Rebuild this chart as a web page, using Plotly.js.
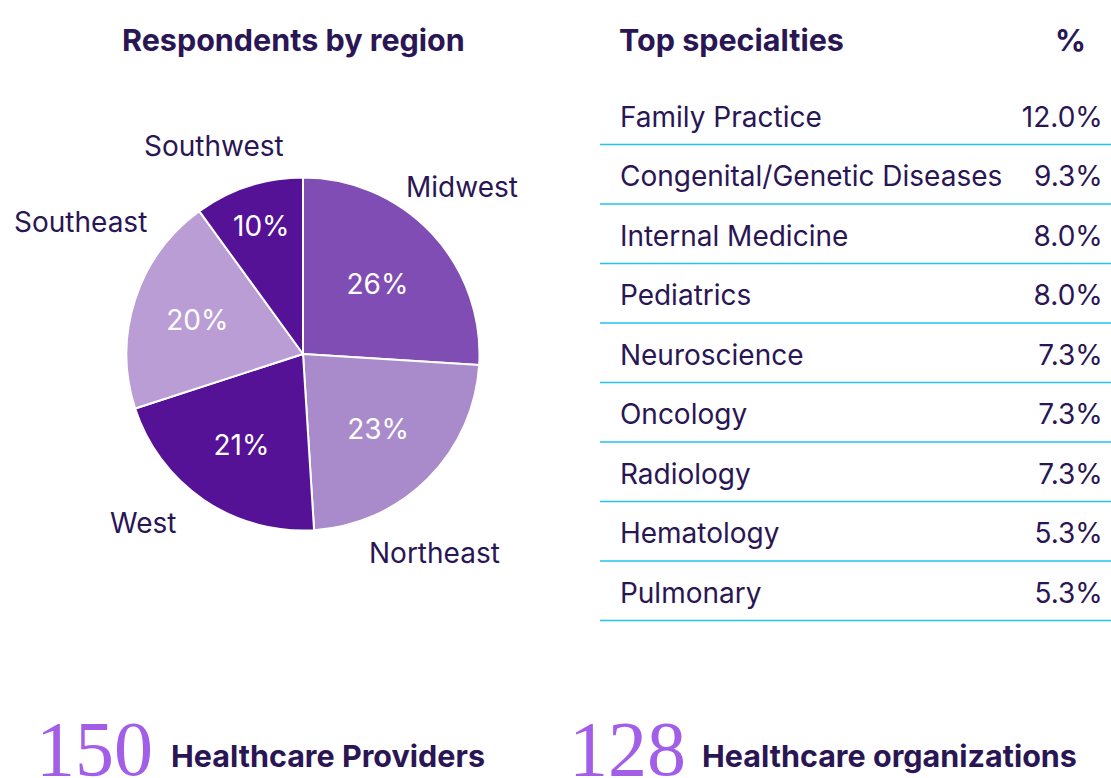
<!DOCTYPE html>
<html>
<head>
<meta charset="utf-8">
<script src="https://cdn.plot.ly/plotly-3.0.1.min.js"></script>
<style>html,body{margin:0;padding:0;background:#fff;}#chart{width:1111px;height:778px;}</style>
</head>
<body>
<div id="chart"></div>
<script>
// ---- data ----
const regions = ["Midwest", "Northeast", "West", "Southeast", "Southwest"];
const regionShares = [26, 23, 21, 20, 10];
const regionColors = ["#7f4db3", "#a98aca", "#551296", "#b99dd4", "#551296"];

const specialties = ["Family Practice", "Congenital/Genetic Diseases", "Internal Medicine", "Pediatrics",
  "Neuroscience", "Oncology", "Radiology", "Hematology", "Pulmonary"];
const specialtyPct = [12.0, 9.3, 8.0, 8.0, 7.3, 7.3, 7.3, 5.3, 5.3];

const statNumbers = ["150", "128"];
const statLabels = ["Healthcare Providers", "Healthcare organizations"];

// ---- layout helpers ----
const W = 1111, H = 778;
const FONT = "Inter, 'Open Sans', sans-serif";
const DARK = "#2a1654";
const px = x => x / W;
const py = y => 1 - y / H;

const pie = {
  type: "pie",
  values: regionShares,
  labels: regions,
  sort: false,
  direction: "clockwise",
  rotation: 0,
  marker: {colors: regionColors, line: {color: "#ffffff", width: 2}},
  texttemplate: "%{value}%",
  textposition: "inside",
  insidetextorientation: "horizontal",
  textfont: {family: FONT, size: 28, color: "#ffffff"},
  hoverinfo: "label+percent",
  domain: {x: [px(126.5), px(479.5)], y: [py(530.5), py(177.5)]},
  showlegend: false
};

const rowIdx = specialties.map((_, i) => i);
const names = {
  type: "scatter", mode: "text", xaxis: "x", yaxis: "y",
  x: rowIdx.map(() => 0.039), y: rowIdx,
  text: specialties, textposition: "middle right",
  textfont: {family: FONT, size: 28, color: DARK},
  hoverinfo: "skip", showlegend: false, cliponaxis: false
};
const vals = {
  type: "scatter", mode: "text", xaxis: "x", yaxis: "y",
  x: rowIdx.map(() => 0.984), y: rowIdx,
  text: specialtyPct.map(v => v.toFixed(1) + "%"), textposition: "middle left",
  textfont: {family: FONT, size: 28, color: DARK},
  hoverinfo: "skip", showlegend: false, cliponaxis: false
};

// separator line under each row (offset below the text baseline-centre)
const sepOffset = 0.42;
const shapes = rowIdx.map(i => ({
  type: "line", xref: "x", yref: "y", x0: 0, x1: 1, y0: i + sepOffset, y1: i + sepOffset,
  line: {color: "#22c3ec", width: 1.5}
}));

// pie name labels (text placement)
const labelPos = {
  Midwest: [462, 187], Northeast: [434, 553], West: [143, 523], Southeast: [80, 222], Southwest: [214, 146]
};
const annotations = regions.map(r => ({
  xref: "paper", yref: "paper", x: px(labelPos[r][0]), y: py(labelPos[r][1]),
  xanchor: "center", yanchor: "middle", text: r, showarrow: false,
  font: {family: FONT, size: 28, color: DARK}
}));

annotations.push(
  {xref: "paper", yref: "paper", x: px(293.5), y: py(40), xanchor: "center", yanchor: "middle",
   text: "<b>Respondents by region</b>", showarrow: false, font: {family: FONT, size: 30.5, color: DARK}},
  {xref: "paper", yref: "paper", x: px(617), y: py(39), xanchor: "left", yanchor: "middle",
   text: "<b>Top specialties</b>", showarrow: false, font: {family: FONT, size: 30.5, color: DARK}},
  {xref: "paper", yref: "paper", x: px(1088), y: py(39), xanchor: "right", yanchor: "middle",
   text: "<b>%</b>", showarrow: false, font: {family: FONT, size: 30.5, color: DARK}}
);

const statX = [[34, 169], [567, 700]];
statNumbers.forEach((n, i) => {
  annotations.push(
    {xref: "paper", yref: "paper", x: px(statX[i][0]), y: py(748), xanchor: "left", yanchor: "middle",
     text: n, showarrow: false, font: {family: "'Liberation Serif', serif", size: 78, color: "#a35ee8"}},
    {xref: "paper", yref: "paper", x: px(statX[i][1]), y: py(755), xanchor: "left", yanchor: "middle",
     text: "<b>" + statLabels[i] + "</b>", showarrow: false, font: {family: FONT, size: 30.5, color: DARK}}
  );
});

const layout = {
  width: W, height: H,
  margin: {l: 0, r: 0, t: 0, b: 0, pad: 0},
  paper_bgcolor: "#ffffff", plot_bgcolor: "rgba(0,0,0,0)",
  showlegend: false,
  xaxis: {domain: [px(600), 1], range: [0, 1], visible: false, fixedrange: true},
  yaxis: {domain: [py(684.75), py(30.25)], range: [9.5, -1.5], visible: false, fixedrange: true},
  shapes: shapes,
  annotations: annotations
};

Plotly.newPlot("chart", [pie, names, vals], layout, {displayModeBar: false, staticPlot: true});
</script>
</body>
</html>
